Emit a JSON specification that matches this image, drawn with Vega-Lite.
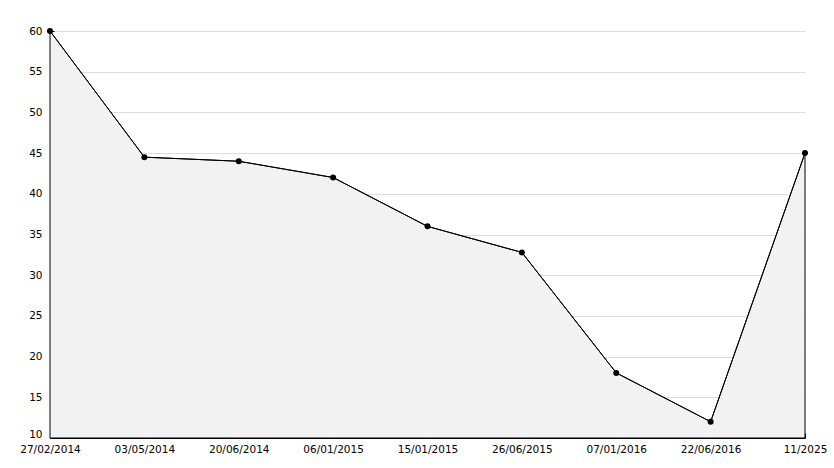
{
  "$schema": "https://vega.github.io/schema/vega-lite/v6.json",
  "width": 755,
  "height": 407,
  "autosize": "none",
  "padding": {"left": 50, "top": 31, "right": 29, "bottom": 30},
  "background": "#ffffff",
  "config": {
    "view": {"stroke": null},
    "axis": {"labelFont": "DejaVu Sans", "labelFontSize": 10.5, "labelColor": "#000000", "domainColor": "#000000", "tickColor": "#000000", "gridColor": "#dddddd", "titleFont": "DejaVu Sans"}
  },
  "data": {
    "values": [
      {"date": "27/02/2014", "value": 60},
      {"date": "03/05/2014", "value": 44.5},
      {"date": "20/06/2014", "value": 44},
      {"date": "06/01/2015", "value": 42},
      {"date": "15/01/2015", "value": 36},
      {"date": "26/06/2015", "value": 32.8},
      {"date": "07/01/2016", "value": 18},
      {"date": "22/06/2016", "value": 12},
      {"date": "11/2025", "value": 45}
    ]
  },
  "encoding": {
    "x": {
      "field": "date", "type": "ordinal", "sort": null,
      "scale": {"type": "point", "padding": 0},
      "axis": {"title": null, "labelAngle": 0, "tickSize": -5, "labelPadding": 11, "grid": false, "domain": true, "labelOverlap": false, "labelBound": false}
    },
    "y": {
      "field": "value", "type": "quantitative",
      "scale": {"domain": [10, 60], "nice": false, "zero": false},
      "axis": {
        "title": null,
        "values": [10,11,12,13,14,15,16,17,18,19,20,21,22,23,24,25,26,27,28,29,30,31,32,33,34,35,36,37,38,39,40,41,42,43,44,45,46,47,48,49,50,51,52,53,54,55,56,57,58,59,60],
        "labelExpr": "datum.value % 5 === 0 ? datum.label : ''",
        "tickSize": -4,
        "labelPadding": 12,
        "grid": true,
        "gridOpacity": {"condition": {"test": "datum.value % 5 === 0", "value": 1}, "value": 0},
        "labelOffset": {"condition": {"test": "datum.value === 10", "value": -4}, "value": 0},
        "labelOverlap": false,
        "labelBound": false
      }
    }
  },
  "layer": [
    {"mark": {"type": "area", "color": "#f2f2f2", "stroke": "#000000", "strokeWidth": 1, "fillOpacity": 1}, "encoding": {"y2": {"datum": 10}}},
    {"mark": {"type": "line", "color": "#000000", "strokeWidth": 1}},
    {"mark": {"type": "point", "filled": true, "shape": "circle", "color": "#000000", "size": 36, "opacity": 1}}
  ]
}
